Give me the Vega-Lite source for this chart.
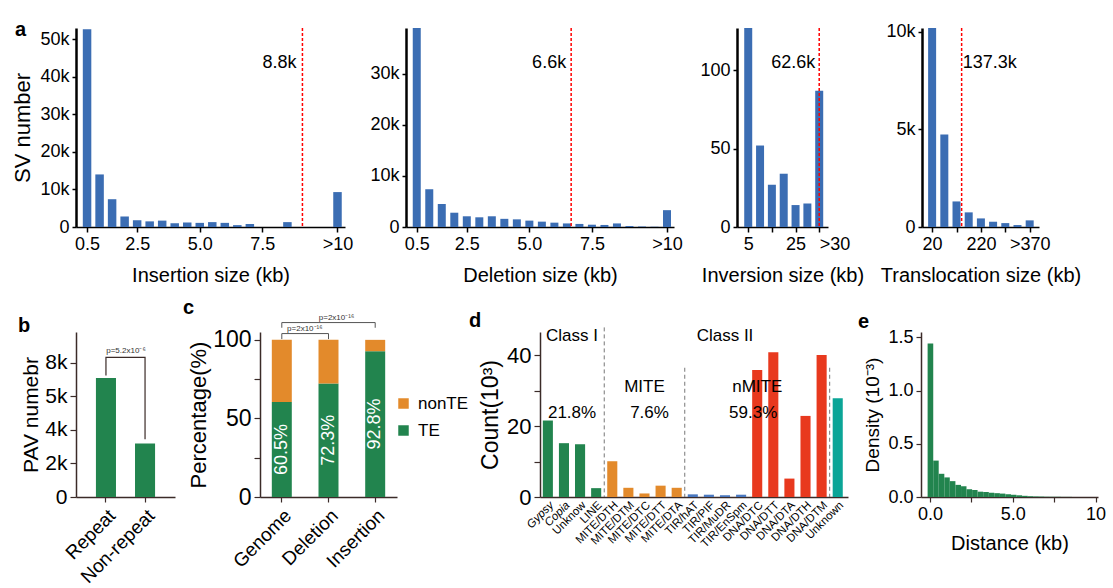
{
  "$schema": "https://vega.github.io/schema/vega-lite/v6.json",
  "background": "white",
  "padding": {"left": 11, "top": 15, "right": 0, "bottom": 0},
  "config": {
    "font": "Liberation Sans",
    "view": {"stroke": null},
    "axis": {"grid": false, "labelColor": "#000", "titleColor": "#000", "titleFontWeight": "normal", "labelFlush": false, "labelOverlap": false, "labelBound": false, "labelFont": "Liberation Sans", "titleFont": "Liberation Sans", "tickCount": 20},
    "title": {"fontSize": 20, "fontWeight": "bold", "anchor": "start", "frame": "group", "color": "#000"},
    "text": {"font": "Liberation Sans"}
  },
  "resolve": {"scale": {"color": "independent"}, "legend": {"color": "independent"}},
  "spacing": 12,
  "vconcat": [
    {
      "spacing": 16,
      "resolve": {"scale": {"color": "independent"}, "legend": {"color": "independent"}},
      "hconcat": [
        {
          "width": 269, "height": 199,
          "title": {"text": "a", "dx": -61, "dy": 17},
          "layer": [
            {
              "data": {"values": [
                {"size": 0.5, "count": 52700}, {"size": 1.0, "count": 14000}, {"size": 1.5, "count": 7400},
                {"size": 2.0, "count": 2800}, {"size": 2.5, "count": 1800}, {"size": 3.0, "count": 1500},
                {"size": 3.5, "count": 1700}, {"size": 4.0, "count": 1000}, {"size": 4.5, "count": 1200},
                {"size": 5.0, "count": 1100}, {"size": 5.5, "count": 1300}, {"size": 6.0, "count": 1100},
                {"size": 6.5, "count": 500}, {"size": 7.0, "count": 800}, {"size": 7.5, "count": 0},
                {"size": 8.0, "count": 0}, {"size": 8.5, "count": 1300}, {"size": 10.5, "count": 9300}
              ]},
              "mark": {"type": "bar", "color": "#3B6DB3", "width": 8.5},
              "encoding": {
                "x": {"field": "size", "type": "quantitative", "scale": {"domain": [0.258, 10.6], "nice": false, "zero": false},
                  "axis": {"values": [0.5, 2.5, 5, 7.5, 10.5], "tickCount": 20, "labelExpr": "datum.value == 10.5 ? '>10' : format(datum.value, '.1f')", "title": "Insertion size (kb)",
                    "domainColor": "#000", "domainWidth": 1.5, "tickColor": "#000", "tickWidth": 1.5, "tickSize": 5, "labelFontSize": 18, "labelPadding": 3, "titleFontSize": 20, "titlePadding": 12}},
                "y": {"field": "count", "type": "quantitative", "scale": {"domain": [0, 53000], "nice": false},
                  "axis": {"values": [0, 10000, 20000, 30000, 40000, 50000], "tickCount": 20, "labelExpr": "datum.value == 0 ? '0' : (datum.value / 1000) + 'k'", "title": "SV number",
                    "domainColor": "#000", "domainWidth": 2.5, "tickColor": "#000", "tickWidth": 1.5, "tickSize": 4, "labelFontSize": 18, "labelPadding": 3, "titleFontSize": 22, "titlePadding": 5}}
              }
            },
            {"data": {"values": [{}]}, "mark": {"type": "rule", "color": "#FF0000", "strokeDash": [3, 2], "strokeWidth": 1.5}, "encoding": {"x": {"datum": 9.1}}},
            {"data": {"values": [{}]}, "mark": {"type": "text", "align": "right", "baseline": "middle", "dx": -6, "fontSize": 18}, "encoding": {"x": {"datum": 9.1}, "y": {"datum": 43700}, "text": {"value": "8.8k"}}}
          ]
        },
        {
          "width": 268, "height": 199,
          "title": {"text": " ", "dy": 17},
          "layer": [
            {
              "data": {"values": [
                {"size": 0.5, "count": 39000}, {"size": 1.0, "count": 7400}, {"size": 1.5, "count": 4500},
                {"size": 2.0, "count": 2800}, {"size": 2.5, "count": 2100}, {"size": 3.0, "count": 1900},
                {"size": 3.5, "count": 2100}, {"size": 4.0, "count": 1600}, {"size": 4.5, "count": 1500},
                {"size": 5.0, "count": 1250}, {"size": 5.5, "count": 1050}, {"size": 6.0, "count": 850},
                {"size": 6.5, "count": 700}, {"size": 7.0, "count": 600}, {"size": 7.5, "count": 450},
                {"size": 8.0, "count": 400}, {"size": 8.5, "count": 700}, {"size": 9.0, "count": 200},
                {"size": 9.5, "count": 100}, {"size": 10.0, "count": 50}, {"size": 10.5, "count": 3300}
              ]},
              "mark": {"type": "bar", "color": "#3B6DB3", "width": 8},
              "encoding": {
                "x": {"field": "size", "type": "quantitative", "scale": {"domain": [0.27, 10.58], "nice": false, "zero": false},
                  "axis": {"values": [0.5, 2.5, 5, 7.5, 10.5], "tickCount": 20, "labelExpr": "datum.value == 10.5 ? '>10' : format(datum.value, '.1f')", "title": "Deletion size (kb)",
                    "domainColor": "#000", "domainWidth": 1.5, "tickColor": "#000", "tickWidth": 1.5, "tickSize": 5, "labelFontSize": 18, "labelPadding": 3, "titleFontSize": 20, "titlePadding": 12}},
                "y": {"field": "count", "type": "quantitative", "scale": {"domain": [0, 39000], "nice": false},
                  "axis": {"values": [0, 10000, 20000, 30000], "tickCount": 20, "labelExpr": "datum.value == 0 ? '0' : (datum.value / 1000) + 'k'", "title": null,
                    "domainColor": "#000", "domainWidth": 2.5, "tickColor": "#000", "tickWidth": 1.5, "tickSize": 4, "labelFontSize": 18, "labelPadding": 3}}
              }
            },
            {"data": {"values": [{}]}, "mark": {"type": "rule", "color": "#FF0000", "strokeDash": [3, 2], "strokeWidth": 1.5}, "encoding": {"x": {"datum": 6.67}}},
            {"data": {"values": [{}]}, "mark": {"type": "text", "align": "right", "baseline": "middle", "dx": -5, "fontSize": 18}, "encoding": {"x": {"datum": 6.67}, "y": {"datum": 32140}, "text": {"value": "6.6k"}}}
          ]
        },
        {
          "width": 91, "height": 199,
          "title": {"text": " ", "dy": 17},
          "layer": [
            {
              "data": {"values": [
                {"size": 5, "count": 127}, {"size": 10, "count": 52}, {"size": 15, "count": 27},
                {"size": 20, "count": 34}, {"size": 25, "count": 14}, {"size": 30, "count": 15}, {"size": 35, "count": 87}
              ]},
              "mark": {"type": "bar", "color": "#3B6DB3", "width": 8},
              "encoding": {
                "x": {"field": "size", "type": "quantitative", "scale": {"domain": [2.37, 36.6], "nice": false, "zero": false},
                  "axis": {"values": [5, 15, 25, 35], "tickCount": 20, "labelExpr": "datum.value == 35 ? '>30' : datum.value == 15 ? '' : datum.label", "title": "Inversion size (kb)",
                    "labelAlign": {"condition": {"test": "datum.value == 35", "value": "left"}, "value": "center"},
                    "domainColor": "#000", "domainWidth": 1.5, "tickColor": "#000", "tickWidth": 1.5, "tickSize": 5, "labelFontSize": 18, "labelPadding": 3, "titleFontSize": 20, "titlePadding": 12}},
                "y": {"field": "count", "type": "quantitative", "scale": {"domain": [0, 127], "nice": false},
                  "axis": {"values": [0, 50, 100], "tickCount": 20, "title": null,
                    "domainColor": "#000", "domainWidth": 2.5, "tickColor": "#000", "tickWidth": 1.5, "tickSize": 4, "labelFontSize": 18, "labelPadding": 3}}
              }
            },
            {"data": {"values": [{}]}, "mark": {"type": "rule", "color": "#FF0000", "strokeDash": [3, 2], "strokeWidth": 1.5}, "encoding": {"x": {"datum": 35}}},
            {"data": {"values": [{}]}, "mark": {"type": "text", "align": "right", "baseline": "middle", "dx": -4, "fontSize": 18}, "encoding": {"x": {"datum": 35}, "y": {"datum": 104.7}, "text": {"value": "62.6k"}}}
          ]
        },
        {
          "width": 117, "height": 199,
          "title": {"text": " ", "dy": 17},
          "layer": [
            {
              "data": {"values": [
                {"size": 20, "count": 10200}, {"size": 70, "count": 4740}, {"size": 120, "count": 1310},
                {"size": 170, "count": 750}, {"size": 220, "count": 440}, {"size": 270, "count": 270},
                {"size": 320, "count": 200}, {"size": 370, "count": 100}, {"size": 420, "count": 340}
              ]},
              "mark": {"type": "bar", "color": "#3B6DB3", "width": 8},
              "encoding": {
                "x": {"field": "size", "type": "quantitative", "scale": {"domain": [-1, 437.7], "nice": false, "zero": false},
                  "axis": {"values": [20, 120, 220, 320, 420], "tickCount": 20, "labelExpr": "datum.value == 420 ? '>370' : (datum.value == 120 || datum.value == 320) ? '' : datum.label", "title": "Translocation size (kb)",
                    "domainColor": "#000", "domainWidth": 1.5, "tickColor": "#000", "tickWidth": 1.5, "tickSize": 5, "labelFontSize": 18, "labelPadding": 3, "titleFontSize": 20, "titlePadding": 12}},
                "y": {"field": "count", "type": "quantitative", "scale": {"domain": [0, 10200], "nice": false},
                  "axis": {"values": [0, 5000, 10000], "tickCount": 20, "labelExpr": "datum.value == 0 ? '0' : (datum.value / 1000) + 'k'", "title": null,
                    "domainColor": "#000", "domainWidth": 2.5, "tickColor": "#000", "tickWidth": 1.5, "tickSize": 4, "labelFontSize": 18, "labelPadding": 3}}
              }
            },
            {"data": {"values": [{}]}, "mark": {"type": "rule", "color": "#FF0000", "strokeDash": [3, 2], "strokeWidth": 1.5}, "encoding": {"x": {"datum": 141}}},
            {"data": {"values": [{}]}, "mark": {"type": "text", "align": "left", "baseline": "middle", "dx": 1, "fontSize": 18}, "encoding": {"x": {"datum": 141}, "y": {"datum": 8406}, "text": {"value": "137.3k"}}}
          ]
        }
      ]
    },
    {
      "spacing": 0,
      "resolve": {"scale": {"color": "independent"}, "legend": {"color": "independent"}},
      "hconcat": [
        {
          "spacing": 8,
          "resolve": {"scale": {"color": "independent"}, "legend": {"color": "independent"}},
          "hconcat": [
            {
              "width": 99, "height": 165,
              "title": {"text": "b", "dx": -58, "dy": 8},
              "layer": [
                {
                  "data": {"values": [{"cat": "Repeat", "n": 7100}, {"cat": "Non-repeat", "n": 3200}]},
                  "mark": {"type": "bar", "color": "#22844E"},
                  "encoding": {
                    "x": {"field": "cat", "type": "nominal", "scale": {"domain": ["Repeat", "Non-repeat"], "paddingInner": 0.487, "paddingOuter": 0.51},
                      "axis": {"title": null, "labelAngle": -45, "labelFontSize": 19, "labelPadding": 4, "domainColor": "#3b2b28", "domainWidth": 1.5, "tickColor": "#3b2b28", "tickWidth": 1.2, "tickSize": 5}},
                    "y": {"field": "n", "type": "quantitative", "scale": {"domain": [0, 9850], "nice": false},
                      "axis": {"values": [0, 2000, 4000, 6000, 8000], "tickCount": 20, "labelExpr": "datum.value == 0 ? '0' : datum.value == 6000 ? '5k' : (datum.value / 1000) + 'k'", "title": "PAV numebr",
                        "labelFontSize": 21, "labelPadding": 3, "titleFontSize": 21, "titlePadding": 3, "domainColor": "#3b2b28", "domainWidth": 1.5, "tickColor": "#3b2b28", "tickWidth": 1.2, "tickSize": 6}}
                  }
                },
                {
                  "data": {"values": [
                    {"cat": "Repeat", "v": 7250, "o": 1}, {"cat": "Repeat", "v": 8330, "o": 2},
                    {"cat": "Non-repeat", "v": 8330, "o": 3}, {"cat": "Non-repeat", "v": 3450, "o": 4}
                  ]},
                  "mark": {"type": "line", "color": "#3b2b28", "strokeWidth": 1.2},
                  "encoding": {
                    "x": {"field": "cat", "type": "nominal"},
                    "y": {"field": "v", "type": "quantitative"},
                    "order": {"field": "o", "type": "quantitative"}
                  }
                },
                {"data": {"values": [{}]}, "mark": {"type": "text", "fontSize": 8, "dx": 20, "dy": -6, "color": "#333"}, "encoding": {"x": {"datum": "Repeat"}, "y": {"datum": 8330}, "text": {"value": "p=5.2x10⁻⁶"}}}
              ]
            },
            {
              "width": 137, "height": 165,
              "title": {"text": "c", "dx": -77, "dy": 8},
              "layer": [
                {
                  "data": {"values": [
                    {"type": "Genome", "class": "TE", "pct": 60.5}, {"type": "Genome", "class": "nonTE", "pct": 39.5},
                    {"type": "Deletion", "class": "TE", "pct": 72.3}, {"type": "Deletion", "class": "nonTE", "pct": 27.7},
                    {"type": "Insertion", "class": "TE", "pct": 92.8}, {"type": "Insertion", "class": "nonTE", "pct": 7.2}
                  ]},
                  "mark": {"type": "bar"},
                  "encoding": {
                    "x": {"field": "type", "type": "nominal", "scale": {"domain": ["Genome", "Deletion", "Insertion"], "paddingInner": 0.572, "paddingOuter": 0.253},
                      "axis": {"title": null, "labelAngle": -45, "labelFontSize": 19, "labelPadding": 4, "domainColor": "#3b2b28", "domainWidth": 1.5, "tickColor": "#3b2b28", "tickWidth": 1.2, "tickSize": 5}},
                    "y": {"field": "pct", "type": "quantitative", "stack": "zero", "scale": {"domain": [0, 105], "nice": false},
                      "axis": {"values": [0, 25, 50, 75, 100], "tickCount": 20, "labelExpr": "datum.value % 50 == 0 ? datum.label : ''", "title": "Percentage(%)",
                        "labelFontSize": 23, "labelPadding": 3, "titleFontSize": 22, "titlePadding": 2, "domainColor": "#3b2b28", "domainWidth": 1.5, "tickColor": "#3b2b28", "tickWidth": 1.2, "tickSize": 6}},
                    "color": {"field": "class", "type": "nominal", "scale": {"domain": ["nonTE", "TE"], "range": ["#E38A2B", "#22844E"]},
                      "legend": {"orient": "none", "legendX": 135, "legendY": 63, "title": null, "symbolType": "square", "symbolSize": 110, "symbolStrokeWidth": 0, "labelFontSize": 17, "rowPadding": 9, "labelOffset": 6}},
                    "order": {"field": "class", "type": "nominal", "sort": "ascending"}
                  }
                },
                {
                  "data": {"values": [
                    {"type": "Genome", "class": "TE", "pct": 60.5},
                    {"type": "Deletion", "class": "TE", "pct": 72.3},
                    {"type": "Insertion", "class": "TE", "pct": 92.8}
                  ]},
                  "transform": [
                    {"calculate": "datum.pct / 2", "as": "mid"},
                    {"calculate": "format(datum.pct, '.1f') + '%'", "as": "lbl"}
                  ],
                  "mark": {"type": "text", "angle": 270, "color": "white", "fontSize": 18, "align": "center", "baseline": "middle"},
                  "encoding": {
                    "x": {"field": "type", "type": "nominal"},
                    "y": {"field": "mid", "type": "quantitative"},
                    "text": {"field": "lbl"}
                  }
                },
                {
                  "data": {"values": [
                    {"type": "Genome", "v": 100.5, "o": 1, "g": "inner"}, {"type": "Genome", "v": 104, "o": 2, "g": "inner"},
                    {"type": "Deletion", "v": 104, "o": 3, "g": "inner"}, {"type": "Deletion", "v": 100.5, "o": 4, "g": "inner"},
                    {"type": "Genome", "v": 107.7, "o": 1, "g": "outer"}, {"type": "Genome", "v": 111, "o": 2, "g": "outer"},
                    {"type": "Insertion", "v": 111, "o": 3, "g": "outer"}, {"type": "Insertion", "v": 107.7, "o": 4, "g": "outer"}
                  ]},
                  "mark": {"type": "line", "color": "#555", "strokeWidth": 1},
                  "encoding": {
                    "x": {"field": "type", "type": "nominal"},
                    "y": {"field": "v", "type": "quantitative"},
                    "detail": {"field": "g", "type": "nominal"},
                    "order": {"field": "o", "type": "quantitative"}
                  }
                },
                {"data": {"values": [{}]}, "mark": {"type": "text", "fontSize": 8, "dx": 23, "dy": -5, "color": "#333"}, "encoding": {"x": {"datum": "Genome"}, "y": {"datum": 104}, "text": {"value": "p=2x10⁻¹⁶"}}},
                {"data": {"values": [{}]}, "mark": {"type": "text", "fontSize": 8, "dx": 8, "dy": -5, "color": "#333"}, "encoding": {"x": {"datum": "Deletion"}, "y": {"datum": 111}, "text": {"value": "p=2x10⁻¹⁶"}}}
              ]
            }
          ]
        },
        {
          "spacing": 10,
          "resolve": {"scale": {"color": "independent"}, "legend": {"color": "independent"}},
          "hconcat": [
            {
              "width": 308, "height": 165,
              "title": {"text": "d", "dx": -71, "dy": 8},
              "layer": [
                {
                  "data": {"values": [
                    {"te": "Gypsy", "group": "ClassI", "count": 21.6},
                    {"te": "Copia", "group": "ClassI", "count": 15.2},
                    {"te": "Unknow", "group": "ClassI", "count": 14.9},
                    {"te": "LINE", "group": "ClassI", "count": 2.5},
                    {"te": "MITE/DTH", "group": "MITE", "count": 10.1},
                    {"te": "MITE/DTM", "group": "MITE", "count": 2.6},
                    {"te": "MITE/DTC", "group": "MITE", "count": 1.0},
                    {"te": "MITE/DTT", "group": "MITE", "count": 3.2},
                    {"te": "MITE/DTA", "group": "MITE", "count": 2.6},
                    {"te": "TIR/hAT", "group": "TIR", "count": 0.75},
                    {"te": "TIR/PIF", "group": "TIR", "count": 0.65},
                    {"te": "TIR/MuDR", "group": "TIR", "count": 0.5},
                    {"te": "TIR/EnSpm", "group": "TIR", "count": 0.65},
                    {"te": "DNA/DTC", "group": "DNA", "count": 35.9},
                    {"te": "DNA/DTT", "group": "DNA", "count": 40.9},
                    {"te": "DNA/DTA", "group": "DNA", "count": 5.2},
                    {"te": "DNA/DTH", "group": "DNA", "count": 22.9},
                    {"te": "DNA/DTM", "group": "DNA", "count": 40.1},
                    {"te": "Unknown", "group": "Unknown", "count": 27.9}
                  ]},
                  "mark": {"type": "bar"},
                  "encoding": {
                    "x": {"field": "te", "type": "nominal",
                      "scale": {"domain": ["Gypsy", "Copia", "Unknow", "LINE", "MITE/DTH", "MITE/DTM", "MITE/DTC", "MITE/DTT", "MITE/DTA", "TIR/hAT", "TIR/PIF", "TIR/MuDR", "TIR/EnSpm", "DNA/DTC", "DNA/DTT", "DNA/DTA", "DNA/DTH", "DNA/DTM", "Unknown"], "paddingInner": 0.374, "paddingOuter": 0.25, "align": 0.35},
                      "axis": {"title": null, "labelAngle": -45, "labelFontSize": 11.5, "labelPadding": 2, "domainColor": "#3b2b28", "domainWidth": 1.5, "ticks": false,
                        "labelFontStyle": {"condition": {"test": "datum.value == 'Gypsy' || datum.value == 'Copia'", "value": "italic"}, "value": "normal"}}},
                    "y": {"field": "count", "type": "quantitative", "scale": {"domain": [0, 46.6], "nice": false},
                      "axis": {"values": [0, 10, 20, 30, 40], "tickCount": 20, "labelExpr": "datum.value % 20 == 0 ? datum.label : ''", "title": "Count(10³)",
                        "labelFontSize": 22, "labelPadding": 3, "titleFontSize": 23, "titlePadding": 4, "domainColor": "#3b2b28", "domainWidth": 1.5, "tickColor": "#3b2b28", "tickWidth": 1.2, "tickSize": 6}},
                    "color": {"field": "group", "type": "nominal", "legend": null,
                      "scale": {"domain": ["ClassI", "MITE", "TIR", "DNA", "Unknown"], "range": ["#22844E", "#E38A2B", "#4A78BF", "#E8391E", "#0BA597"]}}
                  }
                },
                {"data": {"values": [{}]}, "mark": {"type": "rule", "color": "#777", "strokeDash": [4, 3], "strokeWidth": 1}, "encoding": {"x": {"datum": "LINE", "bandPosition": 1.3}, "y": {"datum": 47.9}, "y2": {"datum": 0}}},
                {"data": {"values": [{}]}, "mark": {"type": "rule", "color": "#777", "strokeDash": [4, 3], "strokeWidth": 1}, "encoding": {"x": {"datum": "MITE/DTA", "bandPosition": 1.3}, "y": {"datum": 36.5}, "y2": {"datum": 0}}},
                {"data": {"values": [{}]}, "mark": {"type": "rule", "color": "#777", "strokeDash": [4, 3], "strokeWidth": 1}, "encoding": {"x": {"datum": "DNA/DTM", "bandPosition": 1.3}, "y": {"datum": 36.5}, "y2": {"datum": 0}}},
                {"data": {"values": [{}]}, "mark": {"type": "text", "fontSize": 17, "baseline": "middle"}, "encoding": {"x": {"datum": "Copia", "bandPosition": 1.3}, "y": {"datum": 45.6}, "text": {"value": "Class I"}}},
                {"data": {"values": [{}]}, "mark": {"type": "text", "fontSize": 17, "baseline": "middle"}, "encoding": {"x": {"datum": "TIR/MuDR"}, "y": {"datum": 45.6}, "text": {"value": "Class II"}}},
                {"data": {"values": [{}]}, "mark": {"type": "text", "fontSize": 17, "baseline": "middle"}, "encoding": {"x": {"datum": "MITE/DTC"}, "y": {"datum": 31.1}, "text": {"value": "MITE"}}},
                {"data": {"values": [{}]}, "mark": {"type": "text", "fontSize": 17, "baseline": "middle"}, "encoding": {"x": {"datum": "DNA/DTC"}, "y": {"datum": 31.1}, "text": {"value": "nMITE"}}},
                {"data": {"values": [{}]}, "mark": {"type": "text", "fontSize": 17, "baseline": "middle"}, "encoding": {"x": {"datum": "Copia", "bandPosition": 1.3}, "y": {"datum": 23.7}, "text": {"value": "21.8%"}}},
                {"data": {"values": [{}]}, "mark": {"type": "text", "fontSize": 17, "baseline": "middle"}, "encoding": {"x": {"datum": "MITE/DTC", "bandPosition": 1.0}, "y": {"datum": 23.7}, "text": {"value": "7.6%"}}},
                {"data": {"values": [{}]}, "mark": {"type": "text", "fontSize": 17, "baseline": "middle"}, "encoding": {"x": {"datum": "DNA/DTC", "bandPosition": 0.1}, "y": {"datum": 23.7}, "text": {"value": "59.3%"}}}
              ]
            },
            {
              "width": 177, "height": 165,
              "title": {"text": "e", "dx": -63, "dy": 8},
              "data": {"values": [
                {"x0": -0.15, "x1": 0.19, "d": 1.443}, {"x0": 0.19, "x1": 0.52, "d": 0.342},
                {"x0": 0.52, "x1": 0.86, "d": 0.218}, {"x0": 0.86, "x1": 1.19, "d": 0.184},
                {"x0": 1.19, "x1": 1.53, "d": 0.149}, {"x0": 1.53, "x1": 1.87, "d": 0.114},
                {"x0": 1.87, "x1": 2.20, "d": 0.101}, {"x0": 2.20, "x1": 2.54, "d": 0.073},
                {"x0": 2.54, "x1": 2.87, "d": 0.066}, {"x0": 2.87, "x1": 3.21, "d": 0.050},
                {"x0": 3.21, "x1": 3.55, "d": 0.047}, {"x0": 3.55, "x1": 3.88, "d": 0.040},
                {"x0": 3.88, "x1": 4.22, "d": 0.036}, {"x0": 4.22, "x1": 4.55, "d": 0.032},
                {"x0": 4.55, "x1": 4.89, "d": 0.026}, {"x0": 4.89, "x1": 5.22, "d": 0.021},
                {"x0": 5.22, "x1": 5.56, "d": 0.016}, {"x0": 5.56, "x1": 5.90, "d": 0.011},
                {"x0": 5.90, "x1": 6.23, "d": 0.007}, {"x0": 6.23, "x1": 6.57, "d": 0.005},
                {"x0": 6.57, "x1": 6.90, "d": 0.004}, {"x0": 6.90, "x1": 7.24, "d": 0.003},
                {"x0": 7.24, "x1": 7.57, "d": 0.002}, {"x0": 7.57, "x1": 7.91, "d": 0.002},
                {"x0": 7.91, "x1": 8.25, "d": 0.001}, {"x0": 8.25, "x1": 8.58, "d": 0.001}
              ]},
              "mark": {"type": "bar", "color": "#22844E"},
              "encoding": {
                "x": {"field": "x0", "type": "quantitative", "scale": {"domain": [-0.55, 10.15], "nice": false, "zero": false},
                  "axis": {"values": [0, 2.5, 5, 7.5, 10], "tickCount": 20, "labelExpr": "datum.value == 0 ? '0.0' : datum.value == 5 ? '5.0' : datum.value == 10 ? '10' : ''", "title": "Distance (kb)",
                    "labelFontSize": 18, "labelPadding": 3, "titleFontSize": 20, "titlePadding": 10, "domainColor": "#3b2b28", "domainWidth": 1.5, "tickColor": "#3b2b28", "tickWidth": 1.2, "tickSize": 5}},
                "x2": {"field": "x1"},
                "y": {"field": "d", "type": "quantitative", "scale": {"domain": [0, 1.55], "nice": false},
                  "axis": {"values": [0, 0.5, 1, 1.5], "tickCount": 20, "format": ".1f", "title": "Density (10⁻³)",
                    "labelFontSize": 18, "labelPadding": 3, "titleFontSize": 19, "titlePadding": 5, "domainColor": "#3b2b28", "domainWidth": 1.5, "tickColor": "#3b2b28", "tickWidth": 1.2, "tickSize": 5}},
                "y2": {"datum": 0}
              }
            }
          ]
        }
      ]
    }
  ]
}
